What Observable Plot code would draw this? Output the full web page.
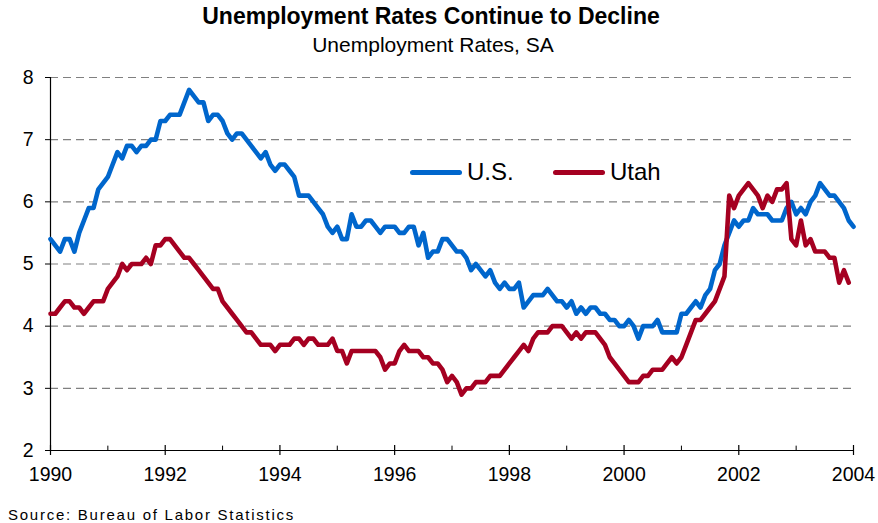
<!DOCTYPE html>
<html><head><meta charset="utf-8">
<script src="https://cdn.jsdelivr.net/npm/d3@7"></script>
<script src="https://cdn.jsdelivr.net/npm/@observablehq/plot@0.6"></script>
<style>
body{margin:0;background:#fff;font-family:"Liberation Sans",Arial,sans-serif;color:#000;}
#wrap{position:relative;width:878px;height:523px;overflow:hidden;background:#fff;}
#title{position:absolute;left:0;width:862px;top:5px;text-align:center;font-weight:bold;font-size:23px;line-height:23px;white-space:nowrap;}
#subtitle{position:absolute;left:0;width:866px;top:34px;text-align:center;font-size:21px;line-height:21px;white-space:nowrap;}
#chart{position:absolute;left:0;top:60px;}
#source{position:absolute;left:8px;top:507px;font-size:15px;line-height:15px;letter-spacing:1.75px;white-space:nowrap;}
.leg{position:absolute;top:160px;display:flex;align-items:center;font-size:24px;line-height:24px;white-space:nowrap;}
.leg span.sw{display:inline-block;width:52px;height:5px;border-radius:2.5px;margin-right:5px;}
</style></head><body>
<div id="wrap">
  <div id="title">Unemployment Rates Continue to Decline</div>
  <div id="subtitle">Unemployment Rates, SA</div>
  <div id="chart"></div>
  <div id="legend"></div>
  <div id="source">Source: Bureau of Labor Statistics</div>
</div>
<script>
// Monthly series, starting January 1990
const startYear = 1990;
const usRate = [
  5.4,5.3,5.2,5.4,5.4,5.2,5.5,5.7,5.9,5.9,6.2,6.3,
  6.4,6.6,6.8,6.7,6.9,6.9,6.8,6.9,6.9,7.0,7.0,7.3,
  7.3,7.4,7.4,7.4,7.6,7.8,7.7,7.6,7.6,7.3,7.4,7.4,
  7.3,7.1,7.0,7.1,7.1,7.0,6.9,6.8,6.7,6.8,6.6,6.5,
  6.6,6.6,6.5,6.4,6.1,6.1,6.1,6.0,5.9,5.8,5.6,5.5,
  5.6,5.4,5.4,5.8,5.6,5.6,5.7,5.7,5.6,5.5,5.6,5.6,
  5.6,5.5,5.5,5.6,5.6,5.3,5.5,5.1,5.2,5.2,5.4,5.4,
  5.3,5.2,5.2,5.1,4.9,5.0,4.9,4.8,4.9,4.7,4.6,4.7,
  4.6,4.6,4.7,4.3,4.4,4.5,4.5,4.5,4.6,4.5,4.4,4.4,
  4.3,4.4,4.2,4.3,4.2,4.3,4.3,4.2,4.2,4.1,4.1,4.0,
  4.0,4.1,4.0,3.8,4.0,4.0,4.0,4.1,3.9,3.9,3.9,3.9,
  4.2,4.2,4.3,4.4,4.3,4.5,4.6,4.9,5.0,5.3,5.5,5.7,
  5.6,5.7,5.7,5.9,5.8,5.8,5.8,5.7,5.7,5.7,5.9,6.0,
  5.8,5.9,5.8,6.0,6.1,6.3,6.2,6.1,6.1,6.0,5.9,5.7,
  5.6
];
const utahRate = [
  4.2,4.2,4.3,4.4,4.4,4.3,4.3,4.2,4.3,4.4,4.4,4.4,
  4.6,4.7,4.8,5.0,4.9,5.0,5.0,5.0,5.1,5.0,5.3,5.3,
  5.4,5.4,5.3,5.2,5.1,5.1,5.0,4.9,4.8,4.7,4.6,4.6,
  4.4,4.3,4.2,4.1,4.0,3.9,3.9,3.8,3.7,3.7,3.7,3.6,
  3.7,3.7,3.7,3.8,3.8,3.7,3.8,3.8,3.7,3.7,3.7,3.8,
  3.6,3.6,3.4,3.6,3.6,3.6,3.6,3.6,3.6,3.5,3.3,3.4,
  3.4,3.6,3.7,3.6,3.6,3.6,3.5,3.5,3.4,3.4,3.3,3.1,
  3.2,3.1,2.9,3.0,3.0,3.1,3.1,3.1,3.2,3.2,3.2,3.3,
  3.4,3.5,3.6,3.7,3.6,3.8,3.9,3.9,3.9,4.0,4.0,4.0,
  3.9,3.8,3.9,3.8,3.9,3.9,3.9,3.8,3.7,3.5,3.4,3.3,
  3.2,3.1,3.1,3.1,3.2,3.2,3.3,3.3,3.3,3.4,3.5,3.4,
  3.5,3.7,3.9,4.1,4.1,4.2,4.3,4.4,4.6,4.8,6.1,5.9,
  6.1,6.2,6.3,6.2,6.1,5.9,6.1,6.0,6.2,6.2,6.3,5.4,
  5.3,5.7,5.3,5.4,5.2,5.2,5.2,5.1,5.1,4.7,4.9,4.7
];
const seriesNames = ["U.S.", "Utah"];
const seriesColors = ["#0066CC", "#A50021"];
const xTickYears = [1990,1992,1994,1996,1998,2000,2002,2004];
const xMinorYears = [1991,1993,1995,1997,1999,2001,2003];
const yTicks = [2,3,4,5,6,7,8];
const gridValues = [3,4,5,6,7,8];

const rows = [];
[usRate, utahRate].forEach((arr, s) => arr.forEach((v, i) => rows.push({series: seriesNames[s], t: startYear + i / 12, v})));

const chart = Plot.plot({
  width: 878, height: 440,
  marginLeft: 50, marginRight: 25, marginTop: 17, marginBottom: 50,
  style: {fontFamily: '"Liberation Sans", Arial, sans-serif', fontSize: "19px", color: "#000", background: "#fff"},
  x: {domain: [1990, 2004], label: null},
  y: {domain: [2, 8], label: null},
  color: {domain: seriesNames, range: seriesColors},
  marks: [
    Plot.gridY(gridValues, {stroke: "#808080", strokeOpacity: 1, strokeWidth: 1.2, strokeDasharray: "8,5"}),
    Plot.ruleY([yTicks[0]], {stroke: "#000", strokeWidth: 1.2}),
    Plot.ruleX([xTickYears[0]], {stroke: "#000", strokeWidth: 1.2}),
    Plot.ruleX(xTickYears, {x: d => d, y1: yTicks[0] - 0.08, y2: yTicks[0] + 0.08, stroke: "#000", strokeWidth: 1.2}),
    Plot.ruleX(xMinorYears, {x: d => d, y1: yTicks[0], y2: yTicks[0] + 0.07, stroke: "#000", strokeWidth: 1}),
    Plot.axisY({ticks: yTicks, tickSize: 5, tickPadding: 12, tickFormat: d => String(d), fontSize: 19.5, stroke: "#000"}),
    Plot.axisX({ticks: xTickYears, tickSize: 0, tickPadding: 17, tickFormat: d => String(d), fontSize: 19.5}),
    Plot.lineY(rows.filter(d => d.series === "U.S."), {x: "t", y: "v", stroke: "series", strokeWidth: 4.6, strokeLinejoin: "round", strokeLinecap: "round"}),
    Plot.lineY(rows.filter(d => d.series === "Utah"), {x: "t", y: "v", stroke: "series", strokeWidth: 4.6, strokeLinejoin: "round", strokeLinecap: "round"})
  ]
});
document.getElementById("chart").appendChild(chart);

// legend (HTML)
const legend = document.getElementById("legend");
const legLeft = [410, 553];
seriesNames.forEach((name, i) => {
  const item = document.createElement("div");
  item.className = "leg";
  item.style.left = legLeft[i] + "px";
  item.innerHTML = `<span class="sw" style="background:${seriesColors[i]}"></span><span>${name}</span>`;
  legend.appendChild(item);
});
</script>
</body></html>
